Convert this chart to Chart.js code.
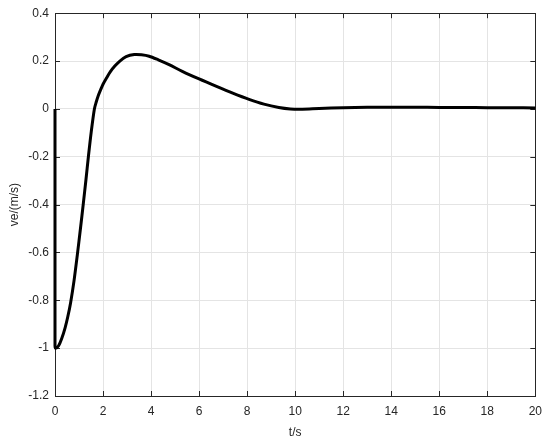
<!DOCTYPE html>
<html>
<head>
<meta charset="utf-8">
<script src="https://cdn.jsdelivr.net/npm/chart.js@4/dist/chart.umd.min.js"></script>
<style>
  html, body { margin: 0; padding: 0; background: #ffffff; }
  #wrap { width: 550px; height: 446px; position: relative; }
</style>
</head>
<body>
<div id="wrap"><canvas id="c" width="550" height="446"></canvas></div>
<script>
// ---- data ----
const timeValues = [0, 0, 0.03, 0.15, 0.28, 0.42, 0.53, 0.65, 0.79, 0.93, 1.06, 1.18, 1.29, 1.39, 1.51, 1.64, 1.72, 1.8, 1.9, 2.0, 2.15, 2.3, 2.5, 2.7, 2.96, 3.3, 3.6, 3.92, 4.3, 4.75, 5.3, 6.0, 6.7, 7.4, 8.08, 8.7, 9.32, 9.8, 10.3, 11, 12, 13, 14, 15, 16, 17, 18, 19, 20];
const veValues   = [0, -0.99, -1.0, -0.99, -0.96, -0.915, -0.87, -0.81, -0.72, -0.61, -0.50, -0.395, -0.295, -0.20, -0.095, 0.0, 0.03, 0.055, 0.08, 0.103, 0.13, 0.155, 0.18, 0.2, 0.218, 0.227, 0.226, 0.22, 0.205, 0.185, 0.157, 0.125, 0.095, 0.066, 0.04, 0.02, 0.006, 0.0, -0.001, 0.002, 0.005, 0.007, 0.007, 0.007, 0.006, 0.006, 0.005, 0.005, 0.004];
const xTickValues = [0, 2, 4, 6, 8, 10, 12, 14, 16, 18, 20];
const xTickLabels = ['0', '2', '4', '6', '8', '10', '12', '14', '16', '18', '20'];
const yTickValues = [-1.2, -1, -0.8, -0.6, -0.4, -0.2, 0, 0.2, 0.4];
const yTickLabels = ['-1.2', '-1', '-0.8', '-0.6', '-0.4', '-0.2', '0', '0.2', '0.4'];
const xAxisTitle = 't/s';
const yAxisTitle = 've/(m/s)';

const points = timeValues.map((t, i) => ({ x: t, y: veValues[i] }));
const AXIS_COLOR = '#262626';
const FONT = { family: "'Liberation Sans', Arial, Helvetica, sans-serif", size: 12 };

// box + inward ticks (MATLAB style), positioned via the chart's own scales
const boxPlugin = {
  id: 'matlabBox',
  beforeDatasetsDraw(chart) {
    const { ctx, chartArea: a, scales } = chart;
    const len = 5;
    ctx.save();
    ctx.strokeStyle = AXIS_COLOR;
    ctx.lineWidth = 1;
    ctx.beginPath();
    scales.x.ticks.forEach(tk => {
      const px = Math.round(scales.x.getPixelForValue(tk.value)) + 0.5;
      ctx.moveTo(px, a.bottom); ctx.lineTo(px, a.bottom - len);
      ctx.moveTo(px, a.top); ctx.lineTo(px, a.top + len);
    });
    scales.y.ticks.forEach(tk => {
      const py = Math.round(scales.y.getPixelForValue(tk.value)) + 0.5;
      ctx.moveTo(a.left, py); ctx.lineTo(a.left + len, py);
      ctx.moveTo(a.right, py); ctx.lineTo(a.right - len, py);
    });
    ctx.stroke();
    ctx.strokeRect(Math.round(a.left) + 0.5, Math.round(a.top) + 0.5,
                   Math.round(a.right - a.left), Math.round(a.bottom - a.top));
    ctx.restore();
  }
};

new Chart(document.getElementById('c'), {
  type: 'line',
  data: {
    datasets: [{
      data: points,
      borderColor: '#000000',
      borderWidth: 3,
      pointRadius: 0,
      fill: false,
      tension: 0.3,
      clip: false,
      borderJoinStyle: 'round',
      borderCapStyle: 'butt'
    }]
  },
  options: {
    responsive: false,
    animation: false,
    devicePixelRatio: 1,
    layout: { padding: { top: 13, right: 13, left: 0, bottom: 0 } },
    plugins: { legend: { display: false }, tooltip: { enabled: false } },
    scales: {
      x: {
        type: 'linear',
        min: 0, max: 20,
        afterBuildTicks: s => { s.ticks = xTickValues.map(v => ({ value: v })); },
        afterFit: s => { s.height = 50; },
        grid: { color: '#e4e4e4', drawTicks: false, lineWidth: 1 },
        border: { display: false },
        ticks: {
          color: AXIS_COLOR, font: FONT, padding: 8, maxRotation: 0,
          callback: (v) => xTickLabels[xTickValues.indexOf(v)]
        },
        title: { display: true, text: xAxisTitle, color: AXIS_COLOR, font: FONT, padding: { top: 0, bottom: 6 } }
      },
      y: {
        type: 'linear',
        min: -1.2, max: 0.4,
        afterBuildTicks: s => { s.ticks = yTickValues.map(v => ({ value: v })); },
        afterFit: s => { s.width = 55; },
        grid: { color: '#e4e4e4', drawTicks: false, lineWidth: 1 },
        border: { display: false },
        ticks: {
          color: AXIS_COLOR, font: FONT, padding: 6,
          callback: (v) => yTickLabels[yTickValues.findIndex(t => Math.abs(t - v) < 1e-9)]
        },
        title: { display: true, text: yAxisTitle, color: AXIS_COLOR, font: FONT, padding: { top: 7, bottom: 0 } }
      }
    }
  },
  plugins: [boxPlugin]
});
</script>
</body>
</html>
